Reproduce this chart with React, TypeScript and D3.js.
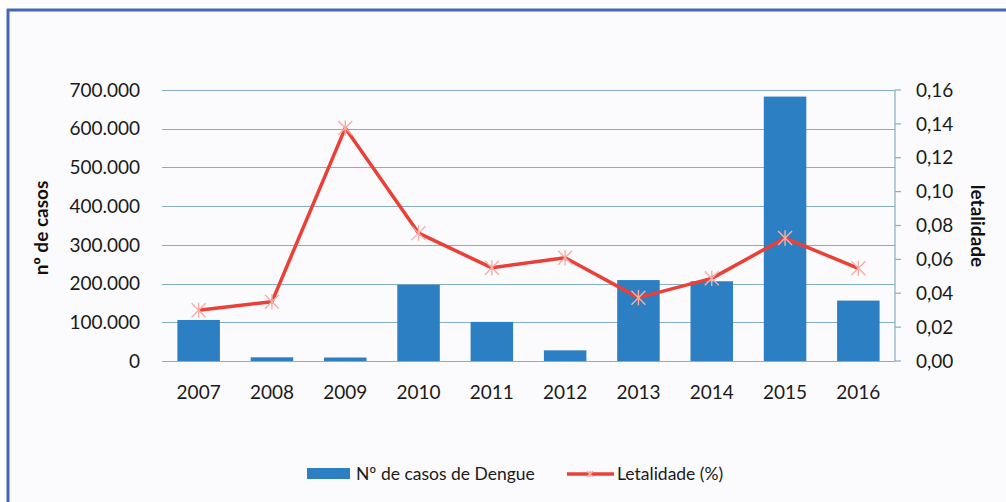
import { useEffect, useRef } from "react";
import * as d3 from "d3";

// Dengue cases and lethality per year
const years = ["2007", "2008", "2009", "2010", "2011", "2012", "2013", "2014", "2015", "2016"];
const casos = [106000, 9500, 9000, 197000, 101000, 27500, 209000, 206000, 683000, 156000];
const letalidade = [0.030, 0.035, 0.1375, 0.0755, 0.055, 0.061, 0.0374, 0.0488, 0.0726, 0.0547];
const leftTicks = [0, 100000, 200000, 300000, 400000, 500000, 600000, 700000];
const rightTicks = [0, 0.02, 0.04, 0.06, 0.08, 0.1, 0.12, 0.14, 0.16];

const FONT = "Lato, 'Open Sans', sans-serif";

export default function App() {
  const svgRef = useRef<SVGSVGElement>(null);

  useEffect(() => {
    const width = 1006,
      height = 502;
    const marginLeft = 162,
      marginRight = 111,
      marginTop = 90,
      plotBottom = 361;

    const svg = d3.select(svgRef.current).attr("width", width).attr("height", height);
    svg.selectAll("*").remove();

    // panel background + blue frame (top and left only are visible)
    svg.append("rect").attr("width", width).attr("height", height).attr("fill", "#ffffff");
    svg.append("rect").attr("x", 9).attr("y", 11).attr("width", width - 9).attr("height", height - 11).attr("fill", "#fbfbfd");
    svg.append("line").attr("x1", 7).attr("x2", width).attr("y1", 10).attr("y2", 10).attr("stroke", "#4566b8").attr("stroke-width", 3);
    svg.append("line").attr("x1", 8).attr("x2", 8).attr("y1", 9).attr("y2", height).attr("stroke", "#4566b8").attr("stroke-width", 3);

    const x = d3.scaleBand().domain(years).range([marginLeft, width - marginRight]).paddingInner(0.42).paddingOuter(0.21);
    const y = d3.scaleLinear().domain([0, 700000]).range([plotBottom, marginTop]);
    const y2 = d3.scaleLinear().domain([0, 0.16]).range([plotBottom, marginTop]);

    const fmtLeft = (v: number) => (v === 0 ? "0" : d3.format(",")(v).replace(/,/g, "."));
    const fmtRight = (v: number) => d3.format(".2f")(v).replace(".", ",");

    // gridlines
    svg
      .append("g")
      .selectAll("line")
      .data(leftTicks)
      .join("line")
      .attr("x1", marginLeft)
      .attr("x2", width - marginRight)
      .attr("y1", (d) => Math.round(y(d)) + 0.5)
      .attr("y2", (d) => Math.round(y(d)) + 0.5)
      .attr("stroke", "#86aec4")
      .attr("stroke-width", 1.2);

    // left tick labels
    svg
      .append("g")
      .selectAll("text")
      .data(leftTicks)
      .join("text")
      .attr("x", 140)
      .attr("y", (d) => y(d))
      .attr("dy", "0.35em")
      .attr("text-anchor", "end")
      .attr("font-family", FONT)
      .attr("font-size", 19)
      .attr("fill", "#1a1a1a")
      .text(fmtLeft);

    // right axis
    const right = svg.append("g").attr("transform", `translate(${width - marginRight},0)`);
    right.append("line").attr("y1", marginTop).attr("y2", plotBottom).attr("stroke", "#86aec4").attr("stroke-width", 1.2);
    right
      .selectAll("line.tick")
      .data(rightTicks)
      .join("line")
      .attr("class", "tick")
      .attr("x1", 0)
      .attr("x2", 6)
      .attr("y1", (d) => y2(d))
      .attr("y2", (d) => y2(d))
      .attr("stroke", "#86aec4")
      .attr("stroke-width", 1.2);
    right
      .selectAll("text")
      .data(rightTicks)
      .join("text")
      .attr("x", 21)
      .attr("y", (d) => y2(d))
      .attr("dy", "0.35em")
      .attr("font-family", FONT)
      .attr("font-size", 19)
      .attr("fill", "#1a1a1a")
      .text(fmtRight);

    // x labels
    svg
      .append("g")
      .selectAll("text")
      .data(years)
      .join("text")
      .attr("x", (d) => x(d)! + x.bandwidth() / 2)
      .attr("y", 392)
      .attr("dy", "0.35em")
      .attr("text-anchor", "middle")
      .attr("font-family", FONT)
      .attr("font-size", 19)
      .attr("fill", "#1a1a1a")
      .text((d) => d);

    // bars
    svg
      .append("g")
      .selectAll("rect")
      .data(casos)
      .join("rect")
      .attr("x", (_, i) => x(years[i])!)
      .attr("y", (d) => y(d))
      .attr("width", x.bandwidth())
      .attr("height", (d) => plotBottom - y(d))
      .attr("fill", "#2b7fc2");

    // lethality line
    const cx = (i: number) => x(years[i])! + x.bandwidth() / 2;
    const line = d3
      .line<number>()
      .x((_, i) => cx(i))
      .y((d) => y2(d));
    svg.append("path").datum(letalidade).attr("d", line).attr("fill", "none").attr("stroke", "#ea4038").attr("stroke-width", 3.5).attr("stroke-linejoin", "round");

    // asterisk markers
    const star = (g: any, px: number, py: number, s: number, color: string) => {
      const m = g.append("g").attr("transform", `translate(${px},${py})`).attr("stroke", color).attr("stroke-width", 1.4);
      m.append("line").attr("x1", -s).attr("y1", -s).attr("x2", s).attr("y2", s);
      m.append("line").attr("x1", -s).attr("y1", s).attr("x2", s).attr("y2", -s);
      m.append("line").attr("x1", 0).attr("y1", -s * 1.1).attr("x2", 0).attr("y2", s * 1.1);
    };
    const markers = svg.append("g");
    letalidade.forEach((d, i) => star(markers, cx(i), y2(d), 7, "#f6aea6"));

    // axis titles
    svg
      .append("text")
      .attr("transform", `translate(48,228) rotate(-90)`)
      .attr("text-anchor", "middle")
      .attr("font-family", FONT)
      .attr("font-weight", "bold")
      .attr("font-size", 19)
      .attr("fill", "#111")
      .text("nº de casos");
    svg
      .append("text")
      .attr("transform", `translate(971,226) rotate(90)`)
      .attr("text-anchor", "middle")
      .attr("font-family", FONT)
      .attr("font-weight", "bold")
      .attr("font-size", 19)
      .attr("fill", "#111")
      .text("letalidade");

    // legend
    const legend = svg.append("g");
    legend.append("rect").attr("x", 307).attr("y", 468).attr("width", 43).attr("height", 11).attr("fill", "#2b7fc2");
    legend
      .append("text")
      .attr("x", 356)
      .attr("y", 474)
      .attr("dy", "0.35em")
      .attr("font-family", FONT)
      .attr("font-size", 17.5)
      .attr("fill", "#1a1a1a")
      .text("Nº de casos de Dengue");
    legend.append("line").attr("x1", 567).attr("x2", 614).attr("y1", 474).attr("y2", 474).attr("stroke", "#ea4038").attr("stroke-width", 3.5);
    star(legend, 590, 474, 3, "#f6aea6");
    legend
      .append("text")
      .attr("x", 617)
      .attr("y", 474)
      .attr("dy", "0.35em")
      .attr("font-family", FONT)
      .attr("font-size", 17.5)
      .attr("fill", "#1a1a1a")
      .text("Letalidade (%)");
  }, []);

  return <svg ref={svgRef} style={{ position: "absolute", left: 0, top: 0 }}></svg>;
}
